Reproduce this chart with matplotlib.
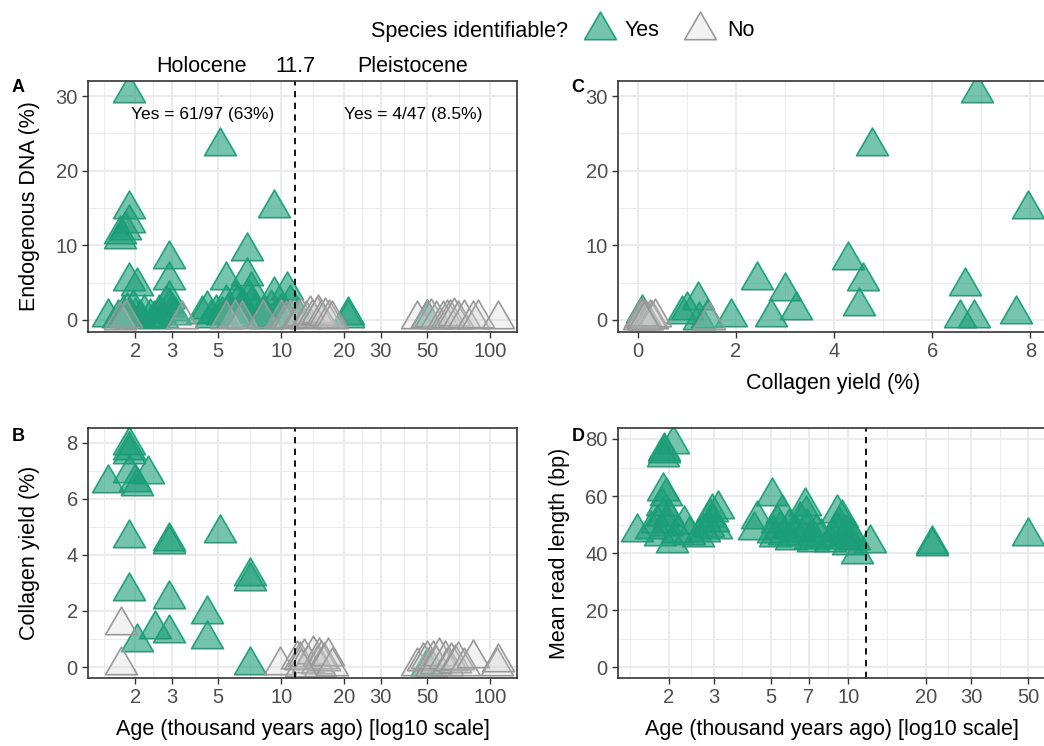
import numpy as np
import matplotlib
matplotlib.use("Agg")
import matplotlib.pyplot as plt
from matplotlib.path import Path
import matplotlib.transforms as mtransforms
from matplotlib.ticker import FixedLocator, FixedFormatter, NullFormatter

plt.rcParams['font.family'] = ['Liberation Sans', 'DejaVu Sans']

# ---------------- data ----------------
# Panel A: age (kya) vs endogenous DNA (%)
a_yes_age = [1.86, 5.07, 9.26, 1.87, 1.87, 1.78, 1.70, 1.70, 1.87, 2.05, 2.90, 2.90, 2.90, 2.90,
             6.85, 6.85, 5.43, 7.18, 5.43, 4.40, 9.20, 10.7, 1.48, 12.1, 21.0, 21.0, 49.8,
             1.65, 1.75, 1.82, 1.90, 1.95, 2.00, 2.10, 2.20, 2.35, 2.45, 2.60, 2.70, 2.80, 3.00,
             3.10, 4.20, 4.60, 4.90, 5.20, 5.60, 5.80, 6.00, 6.20, 6.40, 6.60, 6.90, 7.00, 7.20,
             7.50, 7.80, 8.20, 8.60, 8.90, 9.50, 10.0, 10.5, 11.0]
a_yes_dna = [30.4, 23.3, 15.0, 14.9, 13.0, 12.0, 11.5, 10.8, 5.2, 4.6, 8.2, 5.4, 2.8, 1.8,
             9.2, 5.9, 5.4, 4.0, 2.3, 1.5, 3.3, 4.0, 0.4, 0.5, 0.3, 0.6, 0.3,
             0.2, 0.8, 1.2, 0.3, 1.6, 0.5, 0.2, 0.9, 0.4, 0.1, 1.0, 0.3, 2.2, 1.2,
             0.6, 0.8, 0.3, 1.0, 0.6, 1.4, 0.2, 2.8, 2.6, 0.9, 1.8, 0.4, 3.0, 2.0,
             1.2, 0.2, 0.7, 0.1, 1.6, 0.5, 1.1, 0.2, 2.3]
a_no_age = [1.70, 1.80, 3.35, 5.43, 6.00, 6.50, 8.20, 9.95, 10.6, 11.0,
            12.0, 12.5, 13.2, 13.8, 14.0, 14.8, 15.0, 15.5, 16.2, 16.9, 17.5,
            44.6, 50.0, 52.0, 55.0, 59.8, 62.0, 64.4, 67.0, 70.5, 75.0, 83.3, 88.0, 109.6]
a_no_dna = [0.0, 0.3, 0.1, 0.1, 0.3, 0.1, 0.2, 0.3, 0.1, 0.3,
            0.2, 0.5, 0.1, 0.8, 0.3, 0.6, 1.0, 0.2, 0.5, 0.3, 0.1,
            0.1, 0.2, 0.4, 0.1, 0.1, 0.3, 0.2, 0.5, 0.1, 0.3, 0.1, 0.2, 0.1]

# Panel B: age (kya) vs collagen yield (%)
b_yes_age = [1.86, 1.86, 1.86, 1.49, 1.86, 2.30, 2.00, 2.05, 1.86, 2.91, 2.91, 5.07, 7.11, 7.11,
             1.86, 2.91, 4.44, 2.49, 2.91, 2.04, 4.44, 7.11, 49.8]
b_yes_col = [7.93, 7.72, 7.60, 6.57, 6.93, 6.87, 6.61, 6.45, 4.59, 4.48, 4.37, 4.76, 3.23, 3.08,
             2.71, 2.41, 1.88, 1.37, 1.23, 0.90, 0.99, 0.07, 0.05]
b_no_age = [1.71, 1.71, 9.90, 11.9, 12.3, 12.8, 13.5, 14.2, 14.8, 15.1, 15.4, 15.5, 16.0, 16.8,
            17.5, 12.5, 44.6, 48.0, 49.8, 52.0, 53.5, 55.3, 57.0, 60.9, 62.0, 65.0, 68.0, 70.5,
            75.0, 83.3, 108.0, 109.4]
b_no_col = [1.49, 0.07, 0.07, 0.30, 0.25, 0.35, 0.15, 0.45, 0.10, 0.40, 0.00, 0.30, 0.20, 0.38,
            0.05, 0.00, 0.05, 0.20, 0.28, 0.00, 0.30, 0.10, 0.40, 0.30, 0.05, 0.20, 0.15, 0.25,
            0.05, 0.34, 0.05, 0.17]

# Panel C: collagen yield (%) vs endogenous DNA (%)
c_yes_col = [6.92, 4.77, 7.96, 4.29, 4.59, 4.50, 6.67, 6.56, 6.86, 7.71, 2.43, 3.00, 3.23, 2.71,
             1.90, 1.22, 1.00, 0.90, 1.41, 1.25, 0.08, 0.10]
c_yes_dna = [30.4, 23.3, 14.9, 8.07, 5.22, 1.83, 4.55, 0.27, 0.20, 0.85, 5.31, 3.88, 1.30, 0.40,
             0.40, 2.63, 1.30, 0.85, 0.20, 0.00, 0.90, 0.30]
c_no_col = [0.02, 0.05, 0.10, 0.15, 0.20, 0.25, 0.30, 0.35, 0.08, 0.12, 1.45]
c_no_dna = [0.0, 0.2, 0.1, 0.3, 0.0, 0.2, 0.1, 0.4, 0.5, 0.0, 0.0]

# Panel D: age (kya) vs mean read length (bp), identifiable samples only
d_yes_age = [2.07, 1.91, 1.90, 1.92, 1.90, 1.95, 1.88, 1.90, 1.51, 2.30, 2.06, 1.70, 1.80, 1.85,
             1.95, 2.00, 2.15, 2.40, 2.94, 2.90, 2.98, 2.85, 3.05, 2.75, 2.60, 3.10,
             5.03, 4.40, 4.30, 5.10, 5.30, 5.50, 5.20, 5.60, 5.90, 6.20, 6.50, 6.78, 6.85, 6.90,
             7.10, 7.30, 6.60, 7.50, 5.40, 6.00, 7.80,
             9.43, 9.20, 9.00, 8.70, 9.60, 9.80, 10.2, 10.5, 10.8, 10.0, 8.50, 9.00,
             12.1, 21.1, 21.1, 50.0]
d_yes_len = [78.2, 75.9, 73.6, 75.0, 61.9, 60.0, 56.5, 53.0, 47.5, 50.1, 43.5, 48.5, 50.5, 46.0,
             49.5, 52.5, 47.0, 46.5, 54.4, 52.5, 51.0, 49.0, 48.5, 47.5, 45.5, 55.3,
             59.9, 52.0, 48.0, 47.0, 50.5, 54.0, 45.5, 46.5, 49.0, 47.5, 51.5, 56.5, 53.6, 49.0,
             45.0, 44.0, 46.0, 47.5, 48.5, 44.5, 45.5,
             52.4, 50.0, 48.0, 46.0, 45.0, 47.0, 46.0, 44.5, 39.6, 43.0, 44.0, 54.0,
             43.5, 43.3, 42.5, 45.9]

age_breaks_ab = [2, 3, 5, 10, 20, 30, 50, 100]
age_breaks_d = [2, 3, 5, 7, 10, 20, 30, 50]
boundary_kya = 11.7

# ---------------- style ----------------
W, H = 1044, 746
GRID = '#EBEBEB'
BORDER = '#333333'
TICKTXT = '#4D4D4D'
MS = 26.5  # marker size in points
TICKFS = 14.5
TITLEFS = 15.5
YES_FACE = (0.106, 0.62, 0.467, 0.6)
YES_EDGE = (0.106, 0.62, 0.467, 0.95)
NO_FACE = (0.8, 0.8, 0.8, 0.25)
NO_EDGE = (0.6, 0.6, 0.6, 1.0)

# ggplot-like filled triangle (pch 24): equilateral, centred on centroid
tri = Path([(0, 1.5551), (1.3468, -0.7776), (-1.3468, -0.7776), (0, 1.5551)],
           [Path.MOVETO, Path.LINETO, Path.LINETO, Path.CLOSEPOLY])

fig = plt.figure(figsize=(W / 100, H / 100), dpi=100)


def px_axes(left, top, right, bottom):
    return fig.add_axes([left / W, 1 - bottom / H, (right - left) / W, (bottom - top) / H])


def style(ax):
    ax.set_facecolor('white')
    for s in ax.spines.values():
        s.set_color(BORDER)
        s.set_linewidth(1.2)
        s.set_zorder(10)
    ax.grid(which='major', color=GRID, lw=1.4)
    ax.grid(which='minor', color=GRID, lw=0.7)
    ax.set_axisbelow(True)
    ax.tick_params(which='major', length=4.0, width=1.0, color=BORDER,
                   labelsize=TICKFS, labelcolor=TICKTXT, pad=3.3)
    ax.tick_params(which='minor', length=0)


def log_axis(ax, breaks, lo, hi):
    ax.set_xscale('log')
    ax.set_xlim(lo, hi)
    full = np.array([1] + list(breaks) + [breaks[-1] * 2], dtype=float)
    ax.xaxis.set_major_locator(FixedLocator(breaks))
    ax.xaxis.set_major_formatter(FixedFormatter([str(b) for b in breaks]))
    ax.xaxis.set_minor_locator(FixedLocator(np.sqrt(full[:-1] * full[1:])))
    ax.xaxis.set_minor_formatter(NullFormatter())


def lin_axis(axis, breaks, step):
    axis.set_major_locator(FixedLocator(breaks))
    b = np.array(breaks, dtype=float)
    mids = np.concatenate([[b[0] - step / 2], (b[:-1] + b[1:]) / 2, [b[-1] + step / 2]])
    axis.set_minor_locator(FixedLocator(mids))


def scat(ax, x, y, yes):
    if yes:
        ax.scatter(x, y, s=MS ** 2, marker=tri, facecolor=YES_FACE, edgecolor=YES_EDGE,
                   linewidths=1.2, zorder=3)
    else:
        ax.scatter(x, y, s=MS ** 2, marker=tri, facecolor=NO_FACE, edgecolor=NO_EDGE,
                   linewidths=1.2, zorder=4)


XLAB_Y = -(730 - 678) / 250

# Panel A
axA = px_axes(88, 80.7, 517, 331.7)
style(axA)
log_axis(axA, age_breaks_ab, 1.19, 134.6)
axA.set_ylim(-1.57, 32.05)
lin_axis(axA.yaxis, [0, 10, 20, 30], 10)
scat(axA, a_yes_age, a_yes_dna, True)
scat(axA, a_no_age, a_no_dna, False)
axA.axvline(boundary_kya, color='black', ls=(0, (3.5, 3.0)), lw=1.3, zorder=6)
axA.set_ylabel('Endogenous DNA (%)', fontsize=TITLEFS, va='center')
axA.yaxis.set_label_coords((30 - 88) / 429, 0.5)
trA = mtransforms.blended_transform_factory(axA.transData, axA.transAxes)
for xv, s in [(4.14, 'Holocene'), (boundary_kya, '11.7'), (42.4, 'Pleistocene')]:
    axA.text(xv, (331.7 - 67) / 251, s, transform=trA, ha='center', va='center',
             fontsize=TITLEFS, clip_on=False)
axA.text(4.2, 27.5, 'Yes = 61/97 (63%)', ha='center', va='center', fontsize=12.5, zorder=7)
axA.text(42.9, 27.5, 'Yes = 4/47 (8.5%)', ha='center', va='center', fontsize=12.5, zorder=7)

# Panel B
axB = px_axes(88, 428, 517, 678)
style(axB)
log_axis(axB, age_breaks_ab, 1.19, 134.6)
axB.set_ylim(-0.39, 8.52)
lin_axis(axB.yaxis, [0, 2, 4, 6, 8], 2)
scat(axB, b_yes_age, b_yes_col, True)
scat(axB, b_no_age, b_no_col, False)
axB.axvline(boundary_kya, color='black', ls=(0, (3.5, 3.0)), lw=1.3, zorder=6)
axB.set_ylabel('Collagen yield (%)', fontsize=TITLEFS, va='center')
axB.yaxis.set_label_coords((30 - 88) / 429, 0.5)
axB.set_xlabel('Age (thousand years ago) [log10 scale]', fontsize=TITLEFS, va='center')
axB.xaxis.set_label_coords(0.5, XLAB_Y)

# Panel C
axC = px_axes(618, 80.7, 1048, 331.7)
style(axC)
axC.set_xlim(-0.40, 8.36)
axC.set_ylim(-1.57, 32.05)
lin_axis(axC.xaxis, [0, 2, 4, 6, 8], 2)
lin_axis(axC.yaxis, [0, 10, 20, 30], 10)
scat(axC, c_yes_col, c_yes_dna, True)
scat(axC, c_no_col, c_no_dna, False)
axC.set_xlabel('Collagen yield (%)', fontsize=TITLEFS, va='center')
axC.xaxis.set_label_coords((833 - 618) / 430, -(384 - 331.7) / 251)

# Panel D
axD = px_axes(618, 428, 1048, 678)
style(axD)
log_axis(axD, age_breaks_d, 1.27, 59.8)
axD.set_ylim(-3.75, 83.85)
lin_axis(axD.yaxis, [0, 20, 40, 60, 80], 20)
scat(axD, d_yes_age, d_yes_len, True)
axD.axvline(boundary_kya, color='black', ls=(0, (3.5, 3.0)), lw=1.3, zorder=6)
axD.set_ylabel('Mean read length (bp)', fontsize=TITLEFS, va='center')
axD.yaxis.set_label_coords((560 - 618) / 430, 0.5)
axD.set_xlabel('Age (thousand years ago) [log10 scale]', fontsize=TITLEFS, va='center')
axD.xaxis.set_label_coords((832 - 618) / 430, XLAB_Y)

# Panel letters
for s, (x, y) in zip('ABCD', [(18, 88), (18, 437), (578, 88), (578, 437)]):
    fig.text(x / W, 1 - y / H, s, fontsize=13, fontweight='bold', ha='center', va='center')

# Legend (drawn in a pixel-space overlay)
lg = fig.add_axes([0, 0, 1, 1], facecolor='none')
lg.set_xlim(0, W)
lg.set_ylim(H, 0)
lg.axis('off')
lg.text(568, 31, 'Species identifiable?', ha='right', va='center', fontsize=TITLEFS)
lg.scatter([600], [29.5], s=MS ** 2, marker=tri, facecolor=YES_FACE, edgecolor=YES_EDGE,
           linewidths=1.2)
lg.text(625, 31, 'Yes', ha='left', va='center', fontsize=TITLEFS)
lg.scatter([700], [29.5], s=MS ** 2, marker=tri, facecolor=NO_FACE, edgecolor=NO_EDGE,
           linewidths=1.2)
lg.text(727, 31, 'No', ha='left', va='center', fontsize=TITLEFS)

fig.savefig('out.png', dpi=100)
